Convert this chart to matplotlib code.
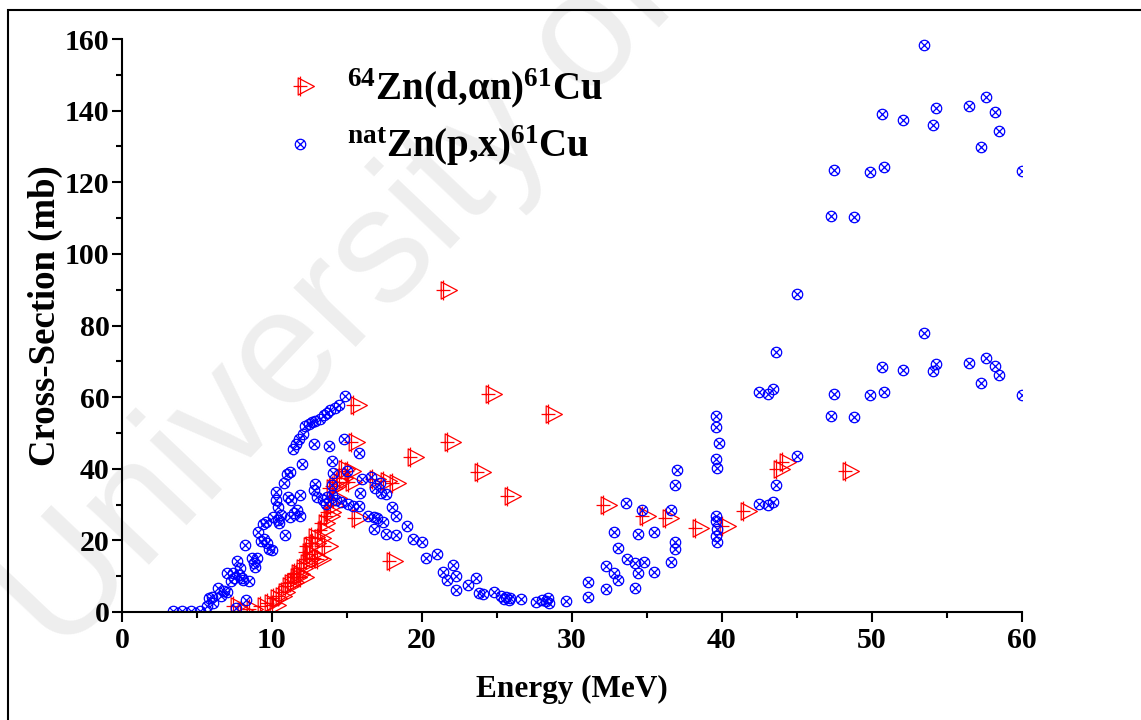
import matplotlib
matplotlib.use('Agg')
import matplotlib.pyplot as plt
from matplotlib.path import Path
from matplotlib.patches import Rectangle
from matplotlib.ticker import MultipleLocator

# 64Zn(d,an)61Cu
zn64_energy = [7.4, 7.9, 8.5, 9.2, 9.7, 10.0, 10.1, 10.4, 10.6, 10.9, 11.0, 11.2, 11.4, 11.5,
               11.6, 11.8, 11.9, 12.1, 12.3, 12.2, 12.5, 12.3, 12.7, 12.6, 13.0, 12.8, 13.0,
               13.2, 13.3, 13.5, 13.6, 13.7, 13.9, 14.1, 13.8, 14.0, 14.3, 14.5, 14.6, 15.0,
               15.1, 15.5, 15.4, 15.3, 16.7, 17.4, 18.0, 17.8, 19.2, 21.4, 21.7, 23.7, 24.4,
               25.7, 28.4, 32.1, 34.7, 36.2, 38.2, 40.0, 41.4, 43.6, 44.0, 48.2]
zn64_xs = [1.7, 0.4, 0.7, 1.6, 2.6, 2.0, 4.0, 4.5, 5.6, 7.3, 8.0, 8.4, 9.8, 11.0,
           10.5, 12.4, 9.8, 13.8, 14.7, 16.8, 16.1, 18.4, 19.3, 21.0, 20.7, 15.0, 14.8,
           23.0, 24.9, 18.4, 26.8, 28.0, 30.0, 31.9, 34.5, 35.2, 36.2, 37.5, 40.0, 39.3,
           36.3, 26.3, 57.9, 47.4, 37.2, 36.5, 35.9, 14.3, 43.3, 89.8, 47.5, 39.0, 60.8,
           32.4, 55.4, 30.0, 26.8, 26.3, 23.5, 24.0, 28.2, 40.0, 42.0, 39.3]

# natZn(p,x)61Cu
znnat_energy = [3.4, 4.0, 4.6, 5.2, 5.7, 5.8, 6.0, 6.1, 6.4, 6.6, 6.8, 7.0, 7.0, 7.3, 7.4, 7.5,
                7.6, 7.7, 7.8, 7.9, 8.0, 8.1, 8.2, 8.3, 8.5, 8.7, 8.8, 8.9, 9.0, 9.1, 9.3, 9.4,
                9.5, 9.6, 9.7, 9.8, 10.0, 10.1, 10.3, 10.3, 10.4, 10.4, 10.5, 10.6, 10.8, 10.9,
                11.0, 11.1, 11.2, 11.3, 11.2, 11.4, 11.5, 11.6, 11.7, 11.8, 11.9, 11.9, 12.0,
                12.1, 12.2, 12.5, 12.7, 12.9, 13.2, 13.5, 13.7, 13.9, 14.2, 14.5, 14.9,
                12.8, 13.8, 14.8, 15.8, 14.0, 14.1, 15.0, 12.9, 12.8, 13.0, 13.4, 13.7, 14.0,
                14.3, 14.6, 15.1, 15.4, 15.8, 15.9, 16.0, 14.0, 13.6, 16.6, 16.9, 17.2, 17.3,
                17.6, 18.0, 18.3, 18.3, 17.6, 17.4, 17.0, 16.8, 16.4, 16.8, 19.0, 19.4, 20.0,
                20.3, 21.0, 21.4, 21.7, 22.1, 22.3, 22.3, 23.1, 23.6, 23.8, 24.1, 24.8, 25.3,
                25.5, 25.6, 25.8, 25.9, 26.6, 27.6, 28.0, 28.3, 28.4, 28.5, 29.6, 31.1, 31.1,
                32.3, 32.3, 32.8, 32.8, 33.1, 33.1, 33.6, 33.7, 34.2, 34.2, 34.4, 34.4, 34.7,
                34.8, 35.5, 35.5, 36.6, 36.6, 36.9, 36.9, 36.9, 37.0, 39.6, 39.6, 39.8, 39.6,
                39.7, 39.6, 39.6, 39.7, 39.6, 39.7, 42.5, 43.1, 43.4, 43.6, 42.5, 43.1, 43.4,
                43.6, 45.0, 45.0, 47.3, 47.5, 47.3, 47.5, 48.8, 48.8, 49.9, 49.9, 50.7, 50.8,
                50.7, 50.8, 52.1, 52.1, 53.5, 53.5, 54.1, 54.3, 54.1, 54.3, 56.5, 56.5, 57.3,
                57.3, 57.6, 57.6, 58.2, 58.2, 58.5, 58.5, 60.0, 60.0]
znnat_xs = [0.3, 0.3, 0.3, 0.4, 1.8, 3.8, 4.2, 2.4, 6.7, 4.6, 5.8, 5.6, 10.8, 8.6, 11.0, 9.4,
            1.2, 14.3, 10.2, 12.4, 9.6, 9.0, 18.6, 3.4, 8.7, 15.2, 13.8, 12.6, 15.0, 22.4, 19.8, 24.6,
            20.4, 25.2, 19.2, 17.6, 17.3, 26.4, 33.6, 31.2, 29.4, 25.6, 24.8, 27.1, 36.1, 21.6,
            38.4, 32.0, 39.2, 31.2, 26.6, 45.4, 27.6, 46.9, 28.6, 48.4, 32.8, 26.9, 41.3,
            49.8, 51.8, 52.6, 53.0, 53.4, 54.0, 54.9, 55.6, 56.4, 57.0, 57.8, 60.3,
            46.8, 46.3, 48.3, 44.3, 42.3, 38.8, 39.5, 35.8, 34.0, 32.0, 31.4, 32.2, 32.7,
            31.4, 30.8, 30.1, 29.5, 29.6, 33.3, 37.2, 35.5, 30.2, 37.8, 34.6, 36.0, 33.3,
            33.0, 29.4, 26.9, 21.4, 21.8, 25.0, 26.3, 23.3, 26.9, 26.5, 23.9, 20.4, 19.5,
            15.0, 16.1, 11.2, 8.9, 13.0, 10.1, 6.2, 7.5, 9.5, 5.4, 4.9, 5.7, 4.5,
            3.6, 4.2, 3.3, 3.9, 3.5, 2.8, 3.3, 3.0, 3.8, 2.6, 3.1, 8.4, 4.1,
            12.8, 6.3, 22.3, 11.0, 17.9, 8.8, 30.5, 14.8, 6.8, 13.7, 21.9, 10.8, 28.4,
            13.9, 22.4, 11.2, 13.9, 28.5, 17.6, 19.6, 35.4, 39.6, 54.8, 51.7, 47.2, 42.8,
            40.2, 26.8, 25.4, 23.3, 21.2, 19.5, 61.4, 60.8, 62.2, 72.5, 30.1, 29.9, 30.6,
            35.6, 88.8, 43.7, 110.7, 123.4, 54.6, 60.8, 110.4, 54.4, 122.9, 60.5, 139.1, 124.2,
            68.5, 61.3, 137.4, 67.7, 158.2, 77.9, 136.0, 140.6, 67.2, 69.3, 141.3, 69.6, 129.9,
            64.0, 143.7, 70.9, 139.7, 68.8, 134.4, 66.1, 123.2, 60.6]

plt.rcParams['font.family'] = 'Liberation Serif'
plt.rcParams['font.weight'] = 'bold'
plt.rcParams['axes.labelweight'] = 'bold'
plt.rcParams['mathtext.fontset'] = 'custom'
plt.rcParams['mathtext.rm'] = 'Liberation Serif:bold'
plt.rcParams['mathtext.it'] = 'Liberation Serif:italic:bold'
plt.rcParams['mathtext.bf'] = 'Liberation Serif:bold'

M, L, C = Path.MOVETO, Path.LINETO, Path.CLOSEPOLY
# right triangle with a plus through it
tri_plus = Path.make_compound_path(
    Path([(-7, -26), (-7, 26), (42, 0), (-7, -26)], [M, L, L, C]),
    Path([(-21, 0), (21, 0), (0, -30), (0, 30)], [M, L, M, L]))
# circle with an x inside
s = 0.7071
circ_x = Path.make_compound_path(
    Path.unit_circle(),
    Path([(-s, -s), (s, s), (-s, s), (s, -s)], [M, L, M, L]))

fig = plt.figure(figsize=(11.41, 7.2), dpi=100)
ax = fig.add_axes([0.1069, 0.15, 0.7888, 0.7958])
ax.patch.set_visible(False)

fig.text(0.298, 0.58, 'University of', rotation=46.5, fontsize=118, color='#eeeeee',
         family='Liberation Sans', weight='normal', ha='center', va='center', zorder=-1)
fig.patches.append(Rectangle((0.007, -0.05), 1.1, 1.036, transform=fig.transFigure,
                             fill=False, edgecolor='black', lw=1.5))

ax.plot(zn64_energy, zn64_xs, linestyle='none', marker=tri_plus, ms=20, mfc='none',
        mec='#ff0000', mew=0.9, label=r'$^{64}$Zn(d,$\mathrm{\alpha}$n)$^{61}$Cu')
ax.plot(znnat_energy, znnat_xs, linestyle='none', marker=circ_x, ms=7.5, mfc='none',
        mec='#0000ff', mew=0.9, label=r'$^{\mathrm{nat}}$Zn(p,x)$^{61}$Cu')

ax.set_xlim(0, 60)
ax.set_ylim(0, 160)
ax.xaxis.set_major_locator(MultipleLocator(10))
ax.xaxis.set_minor_locator(MultipleLocator(5))
ax.yaxis.set_major_locator(MultipleLocator(20))
ax.yaxis.set_minor_locator(MultipleLocator(10))
for side in ['top', 'right']:
    ax.spines[side].set_visible(False)
for side in ['left', 'bottom']:
    ax.spines[side].set_linewidth(1.5)
ax.tick_params(which='major', direction='out', length=7, width=1.5, labelsize=21.5)
ax.tick_params(which='minor', direction='out', length=4, width=1.5)
ax.tick_params(axis='y', pad=2)
ax.tick_params(axis='x', pad=4)

ax.set_xlabel('Energy (MeV)', fontsize=22.5)
ax.set_ylabel('Cross-Section (mb)', fontsize=26.5)
ax.xaxis.set_label_coords(0.5, -0.11)
ax.yaxis.set_label_coords(-0.065, 0.517)

ax.legend(loc='upper left', bbox_to_anchor=(0.246, 0.908), bbox_transform=fig.transFigure,
          frameon=False, fontsize=28, handlelength=1.0, handletextpad=0.71,
          labelspacing=0.36, borderpad=0, borderaxespad=0, numpoints=1)

fig.savefig('out.png', dpi=100)
